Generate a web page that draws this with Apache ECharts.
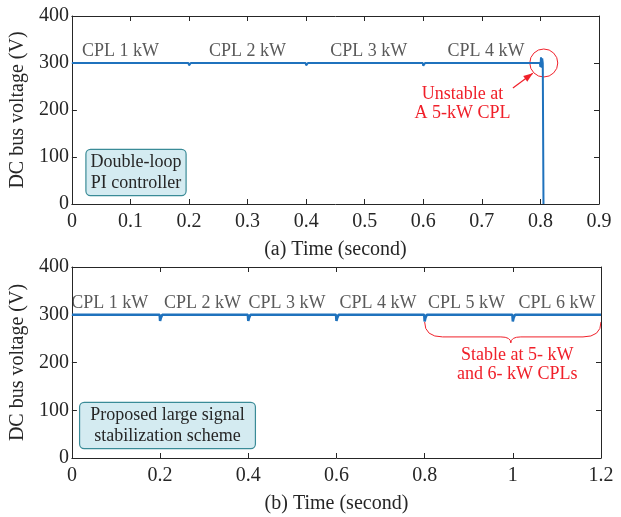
<!DOCTYPE html>
<html>
<head>
<meta charset="UTF-8">
<script src="https://cdn.jsdelivr.net/npm/echarts@6/dist/echarts.min.js"></script>
<style>body{margin:0;background:#fff}#chart{width:621px;height:517px}</style>
</head>
<body>
<div id="chart"></div>
<script>
// (a) double-loop PI controller
var timeA = [0, 0.199, 0.2, 0.203, 0.399, 0.4, 0.403, 0.599, 0.6, 0.603, 0.799, 0.8, 0.801, 0.802, 0.803, 0.804, 0.805, 0.8052];
var voltA = [300, 300, 295, 300, 300, 295, 300, 300, 294, 300, 300, 292, 312, 290, 310, 300, 300, 0];
// (b) proposed scheme
var timeB = [0, 0.199, 0.2, 0.202, 0.205, 0.399, 0.4, 0.402, 0.405, 0.599, 0.6, 0.602, 0.605, 0.799, 0.8, 0.802, 0.805, 0.999, 1.0, 1.002, 1.005, 1.2];
var voltB = [300, 300, 287, 294, 300, 300, 287, 294, 300, 300, 287, 294, 300, 300, 286, 294, 300, 300, 286, 294, 300, 300];

var ticksA = ['0', '0.1', '0.2', '0.3', '0.4', '0.5', '0.6', '0.7', '0.8', '0.9'];
var ticksB = ['0', '0.2', '0.4', '0.6', '0.8', '1', '1.2'];

var cplA = [['CPL 1 kW', 0.083], ['CPL 2 kW', 0.30], ['CPL 3 kW', 0.507], ['CPL 4 kW', 0.707]];
var cplB = [['CPL 1 kW', 0.086], ['CPL 2 kW', 0.296], ['CPL 3 kW', 0.488], ['CPL 4 kW', 0.694], ['CPL 5 kW', 0.895], ['CPL 6 kW', 1.10]];

var font = 'Liberation Serif';
var dark = '#262626';
var blue = '#1f72bd';
var red = '#f0202a';

function xAx(g, max, step, labels, name, top) {
  return {
    type: 'value', gridIndex: g, min: 0, max: max, interval: step,
    position: top ? 'top' : 'bottom',
    name: top ? '' : name, nameLocation: 'middle', nameGap: 36,
    nameTextStyle: { fontFamily: font, fontSize: 20, color: dark },
    axisLine: { show: true, onZero: false, lineStyle: { color: dark, width: 1 } },
    axisTick: { show: true, inside: true, length: 5, lineStyle: { color: dark } },
    axisLabel: { show: !top, fontFamily: font, fontSize: 20, color: dark, margin: 8,
      formatter: function (v) { return labels[Math.round(v / step)]; } },
    splitLine: { show: false }
  };
}
function yAx(g, right) {
  return {
    type: 'value', gridIndex: g, min: 0, max: 400, interval: 100,
    position: right ? 'right' : 'left',
    name: right ? '' : 'DC bus voltage (V)', nameLocation: 'middle', nameGap: 42,
    nameTextStyle: { fontFamily: font, fontSize: 20, color: dark },
    axisLine: { show: true, onZero: false, lineStyle: { color: dark, width: 1 } },
    axisTick: { show: true, inside: true, length: 5, lineStyle: { color: dark } },
    axisLabel: { show: !right, fontFamily: font, fontSize: 20, color: dark, margin: 3 },
    splitLine: { show: false }
  };
}

var chart = echarts.init(document.getElementById('chart'));
chart.setOption({
  animation: false,
  grid: [
    { left: 70, top: 16, width: 529, height: 188 },
    { left: 70, top: 267, width: 531, height: 191 }
  ],
  xAxis: [
    xAx(0, 0.9, 0.1, ticksA, '(a) Time (second)', false),
    xAx(0, 0.9, 0.1, ticksA, '', true),
    xAx(1, 1.2, 0.2, ticksB, '(b) Time (second)', false),
    xAx(1, 1.2, 0.2, ticksB, '', true)
  ],
  yAxis: [yAx(0, false), yAx(0, true), yAx(1, false), yAx(1, true)],
  series: [
    { type: 'line', xAxisIndex: 0, yAxisIndex: 0, showSymbol: false,
      lineStyle: { color: blue, width: 2 },
      data: timeA.map(function (t, i) { return [t, voltA[i]]; }) },
    { type: 'line', xAxisIndex: 2, yAxisIndex: 2, showSymbol: false,
      lineStyle: { color: blue, width: 2.5 },
      data: timeB.map(function (t, i) { return [t, voltB[i]]; }) }
  ]
});

// annotations placed in data space
function px(g, p) { return chart.convertToPixel({ gridIndex: g }, p); }
var gfx = [];
function txt(g, s, x, y, color, size) {
  var p = px(g, [x, y]);
  gfx.push({ type: 'text', x: p[0], y: p[1],
    style: { text: s, fill: color, font: size + 'px "' + font + '"', align: 'center', verticalAlign: 'middle', lineHeight: 19 } });
}
cplA.forEach(function (c) { txt(0, c[0], c[1], 325, '#5a5a5a', 18); });
cplB.forEach(function (c) { txt(1, c[0], c[1], 325, '#5a5a5a', 18); });
txt(0, 'Unstable at\nA 5-kW CPL', 0.667, 214, red, 18);
txt(1, 'Stable at 5- kW\nand 6- kW CPLs', 1.01, 196, red, 18);

// red circle + arrow
var c = px(0, [0.804, 300]);
gfx.push({ type: 'circle', shape: { cx: c[0] + 1, cy: c[1], r: 14 }, style: { fill: 'none', stroke: red, lineWidth: 1 } });
var a0 = px(0, [0.753, 247]), a1 = px(0, [0.787, 278]);
var ang = Math.atan2(a1[1] - a0[1], a1[0] - a0[0]);
function rot(d, off) { return [a1[0] - d * Math.cos(ang + off), a1[1] - d * Math.sin(ang + off)]; }
gfx.push({ type: 'line', shape: { x1: a0[0], y1: a0[1], x2: a1[0], y2: a1[1] }, style: { stroke: red, lineWidth: 1.2 } });
gfx.push({ type: 'polygon', shape: { points: [a1, rot(10, 0.35), rot(10, -0.35)] }, style: { fill: red } });

// brace under the 5 kW / 6 kW span
var b0 = px(1, [0.8, 285]), b1 = px(1, [1.2, 285]);
var xm = (b0[0] + b1[0]) / 2 - 2, y0 = b0[1], d = 15;
var braceStyle = { fill: 'none', stroke: red, lineWidth: 1 };
function qc(x1, y1, cx, cy, x2, y2) {
  gfx.push({ type: 'bezierCurve', shape: { x1: x1, y1: y1, cpx1: cx, cpy1: cy, x2: x2, y2: y2 }, style: braceStyle });
}
function ln(x1, y1, x2, y2) {
  gfx.push({ type: 'line', shape: { x1: x1, y1: y1, x2: x2, y2: y2 }, style: braceStyle });
}
qc(b0[0], y0, b0[0], y0 + d, b0[0] + 18, y0 + d);
ln(b0[0] + 18, y0 + d, xm - 10, y0 + d);
qc(xm - 10, y0 + d, xm, y0 + d, xm, y0 + d + 6);
qc(xm, y0 + d + 6, xm, y0 + d, xm + 10, y0 + d);
ln(xm + 10, y0 + d, b1[0] - 18, y0 + d);
qc(b1[0] - 18, y0 + d, b1[0], y0 + d, b1[0], y0);

// controller boxes
function box(cx, y, s, padX) {
  gfx.push({ type: 'text', x: cx, y: y,
    style: { text: s, fill: dark, font: '18px "' + font + '"', align: 'center', verticalAlign: 'top', lineHeight: 21,
      backgroundColor: '#d4ebf1', borderColor: '#3a8b97', borderWidth: 1.2, borderRadius: 4, padding: [2, padX, 1, padX] } });
}
box(136, 150, 'Double-loop\nPI controller', 4);
box(167.5, 403, 'Proposed large signal\nstabilization scheme', 10);

chart.setOption({ graphic: gfx });
</script>
</body>
</html>
